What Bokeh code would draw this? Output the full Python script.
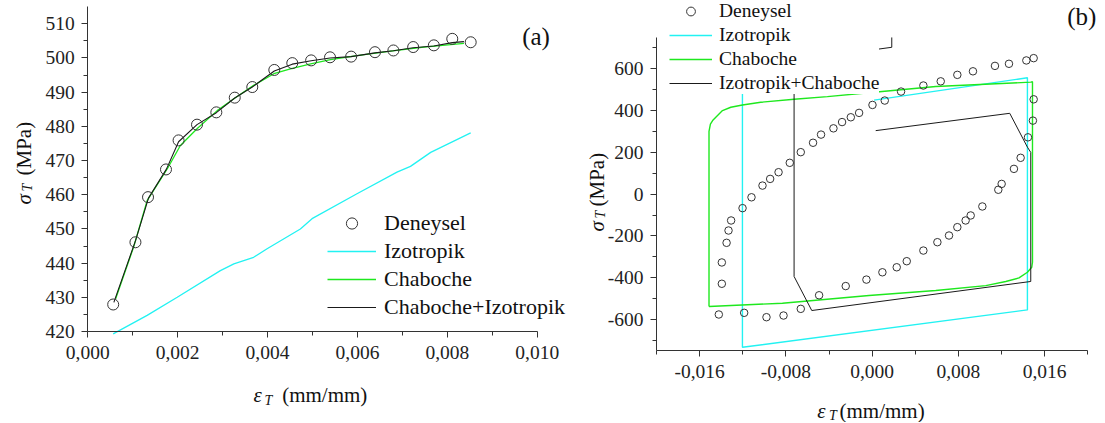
import math
from bokeh.plotting import figure
from bokeh.models import Range1d, FixedTicker, Legend, LegendItem, Label
from bokeh.layouts import row
from bokeh.embed import file_html
from bokeh.resources import INLINE

# ---------------- Panel (a) data ----------------
a_exp_strain = [0.000565, 0.00106, 0.00134, 0.00174, 0.00202, 0.00243, 0.00286, 0.00327, 0.00366, 0.00415,
                0.00455, 0.00497, 0.00539, 0.00586, 0.00639, 0.00680, 0.00724, 0.00770, 0.00811, 0.00852]
a_exp_stress = [427.9, 446.1, 459.3, 467.4, 475.9, 480.5, 484.1, 488.4, 491.5, 496.5,
                498.5, 499.3, 500.2, 500.4, 501.7, 502.2, 503.2, 503.7, 505.6, 504.6]

a_iso_strain = [0.000565, 0.00132, 0.00199, 0.00295, 0.00325, 0.00369, 0.00399, 0.00473, 0.00499,
                0.00599, 0.00688, 0.00718, 0.00763, 0.00852]
a_iso_stress = [419.3, 424.7, 430.0, 437.8, 439.8, 441.7, 444.2, 450.0, 453.0,
                460.3, 466.6, 468.3, 472.4, 478.1]

a_cha_strain = [0.00062, 0.00102, 0.00132, 0.00177, 0.00206, 0.00243, 0.00288, 0.00325, 0.00369,
                0.00414, 0.00451, 0.00496, 0.00540, 0.00599, 0.00674, 0.00748, 0.00837]
a_cha_stress = [429.6, 444.7, 458.3, 467.6, 474.4, 479.3, 484.6, 488.1, 492.0,
                495.4, 496.8, 498.3, 499.5, 500.7, 502.0, 503.2, 504.3]

a_comb_strain = [0.00058, 0.00106, 0.00135, 0.00175, 0.00202, 0.00243, 0.00286, 0.00327, 0.00366, 0.00415,
                 0.00455, 0.00497, 0.00539, 0.00586, 0.00639, 0.00680, 0.00724, 0.00770, 0.00811, 0.00837]
a_comb_stress = [428.5, 446.5, 459.0, 467.5, 475.5, 480.5, 484.0, 488.3, 491.5, 496.2,
                 498.2, 499.2, 500.0, 500.4, 501.5, 502.1, 503.0, 503.5, 504.5, 504.8]

a_xticks = [0.000, 0.002, 0.004, 0.006, 0.008, 0.010]
a_xtick_labels = ["0,000", "0,002", "0,004", "0,006", "0,008", "0,010"]
a_xminor = [0.001, 0.003, 0.005, 0.007, 0.009]
a_yticks = [420, 430, 440, 450, 460, 470, 480, 490, 500, 510]
a_ytick_labels = ["420", "430", "440", "450", "460", "470", "480", "490", "500", "510"]
a_yminor = [425, 435, 445, 455, 465, 475, 485, 495, 505]
a_xbounds = (0.0, 0.010)
a_ybounds = (420.0, 515.0)
a_legend_labels = ["Deneysel", "Izotropik", "Chaboche", "Chaboche+Izotropik"]

# ---------------- Panel (b) data ----------------
b_exp_strain = [-0.01422, -0.01394, -0.01394, -0.01350, -0.01332, -0.01308, -0.01202, -0.01119, -0.01017, -0.00946,
                -0.00868, -0.00764, -0.00662, -0.00548, -0.00474, -0.00359, -0.00279, -0.00198, -0.00121, 0.00003,
                0.00117, 0.00268, 0.00475, 0.00636, 0.00790, 0.00935, 0.01139, 0.01269, 0.01430, 0.01498,
                0.01498, 0.01491, 0.01445, 0.01377, 0.01315, 0.01201, 0.01170, 0.01022, 0.00914, 0.00867,
                0.00790, 0.00713, 0.00605, 0.00475, 0.00321, 0.00228, 0.00095, -0.00053, -0.00245, -0.00492,
                -0.00662, -0.00822, -0.00980, -0.01187]
b_exp_stress = [-576, -429, -327, -233, -174, -126, -67, -15, 41, 73,
                105, 150, 201, 246, 285, 315, 345, 368, 389, 427,
                448, 491, 520, 540, 571, 588, 614, 624, 640, 651,
                454, 352, 272, 174, 121, 49, 21, -59, -102, -126,
                -158, -198, -230, -270, -321, -350, -374, -409, -440, -484,
                -549, -581, -589, -568]

b_iso_strain = [0.00018, 0.01440, 0.01440, -0.01203, -0.01203]
b_iso_stress = [450, 557, -554, -733, 750]

b_cha_strain = [-0.01513, -0.01513, -0.01500, -0.01475, -0.01450, -0.01388, -0.01311, -0.01203, -0.01033,
                -0.00724, -0.00415, 0.00018, 0.00590, 0.01471, 0.01487, 0.01487, 0.01480, 0.01440,
                0.01362, 0.01239, 0.01054, 0.00590, -0.00029, -0.00832, -0.01513]
b_cha_stress = [-538, 300, 335, 355, 368, 400, 416, 427, 440,
                454, 467, 488, 515, 536, 538, -326, -350, -374,
                -401, -418, -438, -461, -485, -522, -538]

b_comb_strain = [0.00033, 0.01276, 0.01440, 0.01471, 0.01471, -0.00560, -0.00724, -0.00724, -0.00685, 0.00182, 0.00182]
b_comb_stress = [304, 387, 225, 200, -418, -557, -394, 611, 642, 703, 750]

b_xticks = [-0.016, -0.008, 0.0, 0.008, 0.016]
b_xtick_labels = ["-0,016", "-0,008", "0,000", "0,008", "0,016"]
b_xminor = [-0.020, -0.012, -0.004, 0.004, 0.012, 0.020]
b_yticks = [-600, -400, -200, 0, 200, 400, 600]
b_ytick_labels = ["-600", "-400", "-200", "0", "200", "400", "600"]
b_yminor = [-700, -500, -300, -100, 100, 300, 500, 700]
b_xbounds = (-0.020, 0.020)
b_ybounds = (-750.0, 750.0)
b_legend_labels = ["Deneysel", "Izotropik", "Chaboche", "Izotropik+Chaboche"]

# ---------------- styling / geometry ----------------
FONT = "Liberation Serif"
CYAN = "#22F2F2"
GREEN = "#1EE81E"
BLACK = "#1a1a1a"
MARK = "#333333"

AW, AH = 576, 422      # panel (a) figure, at page x 0
BW, BH = 528, 422      # panel (b) figure, at page x AW
B_OFF = AW


def lin(px, p0, p1, v0, v1):
    return v0 + (px - p0) * (v1 - v0) / (p1 - p0)


# pixel anchors of the axes (page pixels)
A_XPX = (87.3, 536.7)    # x = 0.000 , 0.010
A_YPX = (331.0, 23.3)    # y = 420 , 510
B_XPX = (656.0, 1087.3)  # x = -0.020 , 0.020
B_YPX = (319.0, 68.3)    # y = -600 , 600


def a_pos(sx, sy):
    return (lin(sx, A_XPX[0], A_XPX[1], 0.0, 0.010), lin(sy, A_YPX[0], A_YPX[1], 420.0, 510.0))


def b_pos(sx, sy):
    return (lin(sx, B_XPX[0], B_XPX[1], -0.020, 0.020), lin(sy, B_YPX[0], B_YPX[1], -600.0, 600.0))


a_xr = (a_pos(0, 0)[0], a_pos(AW, 0)[0])
a_yr = (a_pos(0, AH)[1], a_pos(0, 0)[1])
b_xr = (b_pos(B_OFF, 0)[0], b_pos(B_OFF + BW, 0)[0])
b_yr = (b_pos(0, BH)[1], b_pos(0, 0)[1])


def style(p, xt, xl, xm, yt, yl, ym, xb, yb, xstand, ystand):
    p.xgrid.visible = False
    p.ygrid.visible = False
    p.outline_line_color = None
    p.background_fill_color = "white"
    p.border_fill_color = "white"
    p.xaxis.ticker = FixedTicker(ticks=xt, minor_ticks=xm)
    p.yaxis.ticker = FixedTicker(ticks=yt, minor_ticks=ym)
    p.xaxis.major_label_overrides = dict(zip(xt, xl))
    p.yaxis.major_label_overrides = dict(zip(yt, yl))
    p.xaxis.bounds = xb
    p.yaxis.bounds = yb
    p.xaxis.fixed_location = yb[0]
    p.yaxis.fixed_location = xb[0]
    for ax in (p.xaxis[0], p.yaxis[0]):
        ax.axis_line_color = "#333333"
        ax.axis_line_width = 1
        ax.major_tick_line_color = "#333333"
        ax.minor_tick_line_color = "#333333"
        ax.major_tick_in = 0
        ax.major_tick_out = 6
        ax.minor_tick_in = 0
        ax.minor_tick_out = 4
        ax.major_label_text_font = FONT
        ax.major_label_text_font_size = "19.5px"
        ax.major_label_text_color = "#222222"
        ax.axis_label = None
    p.xaxis.major_label_standoff = xstand
    p.yaxis.major_label_standoff = ystand


def add_text(p, pos, text, size, italic=False, angle=0.0):
    p.add_layout(Label(x=pos[0], y=pos[1], text=text, text_font=FONT, text_font_size=size,
                       text_font_style="italic" if italic else "normal", text_color="#111111",
                       text_align="left", text_baseline="alphabetic", angle=angle))


def legend_style(lg):
    lg.padding = 0
    lg.margin = 0
    lg.border_line_alpha = 0
    lg.background_fill_alpha = 0
    lg.label_text_font = FONT
    lg.label_text_color = "#111111"


# ---------------- panel (a) ----------------
pa = figure(width=AW, height=AH, x_range=Range1d(*a_xr), y_range=Range1d(*a_yr), min_border=0,
            output_backend="svg", toolbar_location=None, title=None)
style(pa, a_xticks, a_xtick_labels, a_xminor, a_yticks, a_ytick_labels, a_yminor,
      a_xbounds, a_ybounds, 8, 7)

ra_iso = pa.line(a_iso_strain, a_iso_stress, line_color=CYAN, line_width=1.3)
ra_cha = pa.line(a_cha_strain, a_cha_stress, line_color=GREEN, line_width=1.3)
ra_comb = pa.line(a_comb_strain, a_comb_stress, line_color=BLACK, line_width=1.1)
ra_exp = pa.scatter(a_exp_strain, a_exp_stress, marker="circle", size=11, line_color=MARK,
                    line_width=1, fill_alpha=0)

lga = Legend(items=[LegendItem(label=a_legend_labels[0], renderers=[ra_exp]),
                    LegendItem(label=a_legend_labels[1], renderers=[ra_iso]),
                    LegendItem(label=a_legend_labels[2], renderers=[ra_cha]),
                    LegendItem(label=a_legend_labels[3], renderers=[ra_comb])],
             location=(327, round(AH - 321.3)))
legend_style(lga)
lga.glyph_width = 49
lga.glyph_height = 28
lga.label_height = 28
lga.label_standoff = 8
lga.spacing = 0
lga.label_text_font_size = "22px"
pa.add_layout(lga)

# axis titles (a)
add_text(pa, a_pos(253, 394.5), "ε", "21px", italic=True)
add_text(pa, a_pos(264, 400), "T", "14px", italic=True)
add_text(pa, a_pos(281.7, 394.5), "(mm/mm)", "21px")
add_text(pa, a_pos(23.5, 204.0), "σ", "21px", italic=True, angle=math.pi / 2)
add_text(pa, a_pos(27.0, 191.0), "T", "14px", italic=True, angle=math.pi / 2)
add_text(pa, a_pos(23.5, 175.0), "(MPa)", "21px", angle=math.pi / 2)
add_text(pa, a_pos(521.7, 35.5), "(a)", "25px")

# ---------------- panel (b) ----------------
pb = figure(width=BW, height=BH, x_range=Range1d(*b_xr), y_range=Range1d(*b_yr), min_border=0,
            output_backend="svg", toolbar_location=None, title=None)
style(pb, b_xticks, b_xtick_labels, b_xminor, b_yticks, b_ytick_labels, b_yminor,
      b_xbounds, b_ybounds, 8, 7)

rb_iso = pb.line(b_iso_strain, b_iso_stress, line_color=CYAN, line_width=1.4)
rb_cha = pb.line(b_cha_strain, b_cha_stress, line_color=GREEN, line_width=1.4)
rb_comb = pb.line(b_comb_strain, b_comb_stress, line_color=BLACK, line_width=1.0)
rb_exp = pb.scatter(b_exp_strain, b_exp_stress, marker="circle", size=7.5, line_color=MARK,
                    line_width=1, fill_alpha=0)

lgb = Legend(items=[LegendItem(label=b_legend_labels[0], renderers=[rb_exp]),
                    LegendItem(label=b_legend_labels[1], renderers=[rb_iso]),
                    LegendItem(label=b_legend_labels[2], renderers=[rb_cha]),
                    LegendItem(label=b_legend_labels[3], renderers=[rb_comb])],
             location=(669 - B_OFF, round(BH - 93.5)))
legend_style(lgb)
lgb.glyph_width = 43
lgb.glyph_height = 22
lgb.label_height = 22
lgb.label_standoff = 7
lgb.spacing = 2
lgb.label_text_font_size = "19.5px"
lgb.background_fill_color = "white"
lgb.background_fill_alpha = 1.0
pb.add_layout(lgb)

# axis titles (b)
add_text(pb, b_pos(816.7, 410.5), "ε", "21px", italic=True)
add_text(pb, b_pos(828.5, 415), "T", "14px", italic=True)
add_text(pb, b_pos(839.0, 410.5), "(mm/mm)", "21px")
add_text(pb, b_pos(596.3, 231.0), "σ", "21px", italic=True, angle=math.pi / 2)
add_text(pb, b_pos(599.8, 218.0), "T", "14px", italic=True, angle=math.pi / 2)
add_text(pb, b_pos(596.3, 206.0), "(MPa)", "21px", angle=math.pi / 2)
add_text(pb, b_pos(1066.7, 15.5), "(b)", "25px")

layout = row(pa, pb)
open("out.html", "w").write(file_html(layout, INLINE))
